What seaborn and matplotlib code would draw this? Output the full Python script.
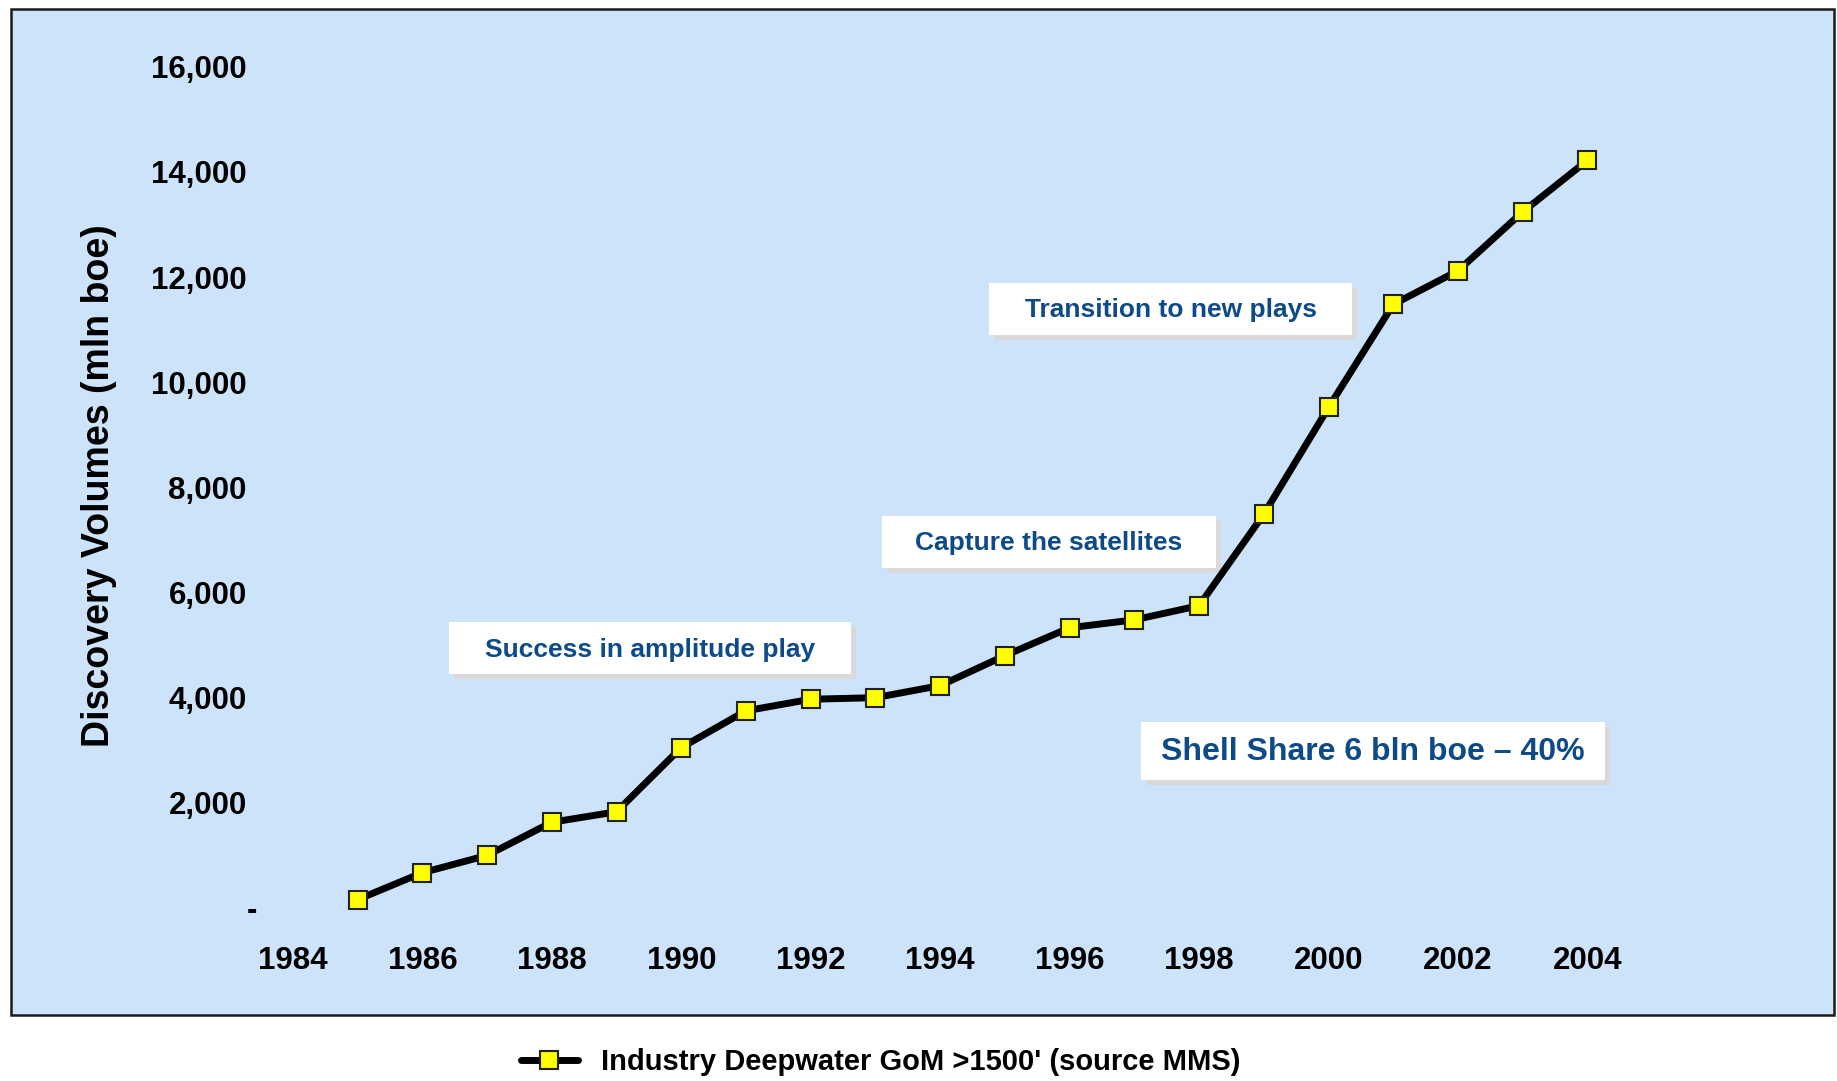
import matplotlib
matplotlib.use("Agg")
import matplotlib.pyplot as plt
import matplotlib.transforms as mtransforms
from matplotlib.patches import Rectangle
import seaborn as sns
import pandas as pd

# ---- data ----
years = [1985, 1986, 1987, 1988, 1989, 1990, 1991, 1992, 1993, 1994,
         1995, 1996, 1997, 1998, 1999, 2000, 2001, 2002, 2003, 2004]
volumes = [160, 670, 1000, 1630, 1830, 3050, 3750, 3970, 4000, 4230,
           4800, 5330, 5480, 5750, 7490, 9520, 11480, 12120, 13240, 14220]
series_label = "Industry Deepwater GoM >1500' (source MMS)"
x_ticks = [1984, 1986, 1988, 1990, 1992, 1994, 1996, 1998, 2000, 2002, 2004]
y_ticks = [0, 2000, 4000, 6000, 8000, 10000, 12000, 14000, 16000]
y_tick_labels = ["-", "2,000", "4,000", "6,000", "8,000", "10,000", "12,000", "14,000", "16,000"]
y_label = "Discovery Volumes (mln boe)"

# annotation boxes
notes_text = ["Success in amplitude play", "Capture the satellites",
              "Transition to new plays", "Shell Share 6 bln boe \u2013 40%"]
notes_box_x = [(1986.41, 1992.62), (1993.10, 1998.26), (1994.75, 2000.36), (1997.11, 2004.27)]
notes_box_y = [(4450, 5434), (6472, 7455), (10898, 11881), (2440, 3537)]
notes_text_xy = [(1989.52, 4907), (1995.68, 6936), (1997.56, 11373), (2000.69, 2973)]
notes_size = [19, 19, 19, 23]

df = pd.DataFrame({"year": years, "volume": volumes})

sns.set_theme(style="white")
plt.rcParams["font.family"] = ["Liberation Sans", "DejaVu Sans"]
plt.rcParams["font.weight"] = "bold"
plt.rcParams["text.color"] = "black"
plt.rcParams["axes.labelcolor"] = "black"
plt.rcParams["xtick.color"] = "black"
plt.rcParams["ytick.color"] = "black"

W, H = 1837, 1081
fig = plt.figure(figsize=(W / 100, H / 100), dpi=100)
fig.patch.set_facecolor("white")

# light-blue panel with dark border
panel = Rectangle((11 / W, 1 - 1015 / H), (1834 - 11) / W, (1015 - 9) / H,
                  transform=fig.transFigure, facecolor="#CDE3F9",
                  edgecolor="#1a1a1a", linewidth=1.8, zorder=-10)
fig.patches.append(panel)

ax = fig.add_axes([0.13830, 0.13090, 0.81394, 0.85596])
ax.set_facecolor("none")
ax.set_zorder(1)

sns.lineplot(data=df, x="year", y="volume", ax=ax, color="black",
             linewidth=5, marker="s", markersize=13,
             markerfacecolor="#FFFF00", markeredgecolor="#222222",
             markeredgewidth=1.5, label=series_label, zorder=5)

ax.set_xlim(1983.4, 2006.5)
ax.set_ylim(-600, 17000)
ax.set_xticks(x_ticks)
ax.set_xticklabels([str(v) for v in x_ticks])
ax.set_yticks(y_ticks)
ax.set_yticklabels(y_tick_labels)
ax.tick_params(axis="x", length=0, pad=5, labelsize=22.5, labelcolor="black")
ax.tick_params(axis="y", length=0, pad=5.3, labelsize=22.5, labelcolor="black")
for lbl in ax.get_xticklabels() + ax.get_yticklabels():
    lbl.set_fontweight("bold")
zlbl = ax.get_yticklabels()[0]
zlbl.set_transform(zlbl.get_transform() +
                   mtransforms.ScaledTranslation(10 / 100, 0, fig.dpi_scale_trans))

for s in ax.spines.values():
    s.set_visible(False)
ax.grid(False)

ax.set_xlabel("")
ax.set_ylabel(y_label, fontsize=27, fontweight="bold", color="black")
ax.yaxis.set_label_coords(-0.1035, 0.4901)
ax.yaxis.label.set_verticalalignment("center")
ax.yaxis.label.set_horizontalalignment("center")

shadow_off = mtransforms.ScaledTranslation(5 / 100, -5 / 100, fig.dpi_scale_trans)
for txt, (x0, x1), (y0, y1), (tx, ty), fs in zip(notes_text, notes_box_x, notes_box_y,
                                                 notes_text_xy, notes_size):
    ax.add_patch(Rectangle((x0, y0), x1 - x0, y1 - y0, transform=ax.transData + shadow_off,
                           facecolor="#D9D9D9", edgecolor="none", zorder=2))
    ax.add_patch(Rectangle((x0, y0), x1 - x0, y1 - y0, facecolor="white",
                           edgecolor="none", zorder=3))
    ax.text(tx, ty, txt, ha="center", va="center", fontsize=fs, fontweight="bold",
            color="#0D4A8A", zorder=4)

leg = ax.legend(loc="center left", bbox_to_anchor=(520.7 / W, 1 - 1062 / H),
                bbox_transform=fig.transFigure, frameon=False,
                handlelength=1.95, handletextpad=0.82, borderpad=0, borderaxespad=0,
                prop={"weight": "bold", "size": 21}, labelcolor="black")

fig.savefig("out.png", dpi=100, facecolor="white")
